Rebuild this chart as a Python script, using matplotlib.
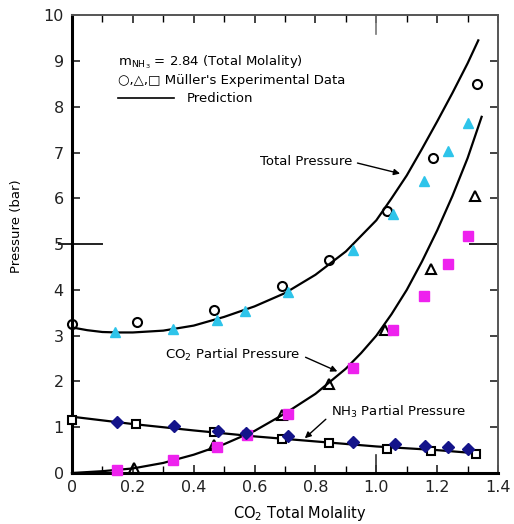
import matplotlib
matplotlib.use("Agg")
import matplotlib.pyplot as plt
from matplotlib.lines import Line2D

# ---- data ----
# Total pressure (open circles, cyan triangles)
tot_circ_x = [0.0, 0.213, 0.467, 0.689, 0.846, 1.034, 1.185, 1.33]
tot_circ_y = [3.25, 3.29, 3.56, 4.08, 4.65, 5.72, 6.87, 8.49]
tot_tri_x = [0.141, 0.333, 0.475, 0.569, 0.711, 0.922, 1.056, 1.158, 1.235, 1.30]
tot_tri_y = [3.07, 3.14, 3.35, 3.54, 3.96, 4.87, 5.65, 6.38, 7.03, 7.64]
# CO2 partial pressure (open triangles, magenta squares)
co2_tri_x = [0.204, 0.467, 0.689, 0.846, 1.029, 1.179, 1.324]
co2_tri_y = [0.12, 0.61, 1.27, 1.94, 3.12, 4.45, 6.06]
co2_sq_x = [0.147, 0.333, 0.475, 0.574, 0.711, 0.922, 1.056, 1.158, 1.237, 1.30]
co2_sq_y = [0.07, 0.28, 0.57, 0.83, 1.28, 2.29, 3.12, 3.87, 4.56, 5.18]
# NH3 partial pressure (open squares, navy diamonds)
nh3_sq_x = [0.0, 0.21, 0.467, 0.689, 0.846, 1.034, 1.179, 1.327]
nh3_sq_y = [1.16, 1.06, 0.90, 0.74, 0.66, 0.52, 0.47, 0.41]
nh3_dia_x = [0.149, 0.335, 0.481, 0.572, 0.711, 0.925, 1.06, 1.16, 1.237, 1.30]
nh3_dia_y = [1.12, 1.03, 0.92, 0.88, 0.81, 0.68, 0.63, 0.60, 0.56, 0.52]

# Prediction curves
pred_tot_x = [0, 0.05, 0.1, 0.15, 0.2, 0.3, 0.4, 0.5, 0.6, 0.7, 0.8, 0.9, 1.0, 1.05, 1.1, 1.15, 1.2, 1.25, 1.3, 1.335]
pred_tot_y = [3.18, 3.12, 3.08, 3.07, 3.07, 3.11, 3.22, 3.41, 3.64, 3.93, 4.33, 4.84, 5.52, 6.0, 6.5, 7.08, 7.68, 8.3, 8.95, 9.45]
pred_co2_x = [0, 0.1, 0.2, 0.3, 0.4, 0.5, 0.6, 0.7, 0.8, 0.9, 0.95, 1.0, 1.05, 1.1, 1.15, 1.2, 1.25, 1.3, 1.346]
pred_co2_y = [0, 0.04, 0.10, 0.22, 0.40, 0.63, 0.92, 1.30, 1.73, 2.28, 2.62, 3.0, 3.47, 4.0, 4.62, 5.3, 6.05, 6.88, 7.78]
pred_nh3_x = [0, 0.2, 0.4, 0.6, 0.8, 1.0, 1.2, 1.33]
pred_nh3_y = [1.23, 1.07, 0.93, 0.80, 0.69, 0.58, 0.50, 0.43]

x_ticks = [0, 0.2, 0.4, 0.6, 0.8, 1.0, 1.2, 1.4]
x_tick_labels = ["0", "0.2", "0.4", "0.6", "0.8", "1.0", "1.2", "1.4"]
y_ticks = list(range(0, 11))

CYAN = "#2ec4ea"
MAGENTA = "#ee22ee"
NAVY = "#14148a"

fig = plt.figure(figsize=(5.14, 5.24), dpi=100)
ax = fig.add_axes([0.140, 0.0973, 0.829, 0.8737])

# curves
for cx, cy in [(pred_tot_x, pred_tot_y), (pred_co2_x, pred_co2_y), (pred_nh3_x, pred_nh3_y)]:
    ax.plot(cx, cy, color="black", lw=1.6, zorder=2, clip_on=False)

# markers
ax.plot(tot_circ_x, tot_circ_y, "o", ms=6.5, mfc="none", mec="black", mew=1.5, zorder=4, clip_on=False)
ax.plot(tot_tri_x, tot_tri_y, "^", ms=7.5, color=CYAN, mec=CYAN, zorder=5, clip_on=False)
ax.plot(co2_tri_x, co2_tri_y, "^", ms=7, mfc="none", mec="black", mew=1.5, zorder=4, clip_on=False)
ax.plot(co2_sq_x, co2_sq_y, "s", ms=7, color=MAGENTA, mec=MAGENTA, zorder=5, clip_on=False)
ax.plot(nh3_sq_x, nh3_sq_y, "s", ms=6, mfc="white", mec="black", mew=1.5, zorder=4, clip_on=False)
ax.plot(nh3_dia_x, nh3_dia_y, "D", ms=6, color=NAVY, mec=NAVY, zorder=5, clip_on=False)

ax.set_xlim(0, 1.4)
ax.set_ylim(0, 10)
ax.set_xticks(x_ticks)
ax.set_xticklabels(x_tick_labels)
ax.set_xticks([i / 10 for i in range(1, 14)], minor=True)
ax.set_yticks(y_ticks)

ax.tick_params(axis="both", which="major", direction="in", length=6, width=1.2,
               labelsize=11.5, top=True, right=True, pad=6, colors="#222222")
ax.tick_params(axis="x", which="minor", direction="in", length=5, width=1.0, top=True)
ax.tick_params(axis="x", which="major", pad=5)

for side in ["left", "bottom"]:
    ax.spines[side].set_linewidth(2.2)
for side in ["top", "right"]:
    ax.spines[side].set_linewidth(1.4)
    ax.spines[side].set_color("#555555")

# long marks at x=1.0 (top and bottom) and y=5 (left and right)
trans = ax.get_xaxis_transform()
ax.add_line(Line2D([1.0, 1.0], [0, 0.04], transform=trans, color="#333333", lw=1.2))
ax.add_line(Line2D([1.0, 1.0], [1.0, 0.96], transform=trans, color="#777777", lw=1.2))
ytrans = ax.get_yaxis_transform()
ax.add_line(Line2D([-0.03, 0.07], [5, 5], transform=ytrans, color="#222222", lw=1.4, clip_on=False))
ax.add_line(Line2D([0.935, 1.0], [5, 5], transform=ytrans, color="#222222", lw=1.4))

ax.set_xlabel("CO$_2$ Total Molality", fontsize=10.5)
ax.xaxis.set_label_coords(0.535, -0.068)
ax.set_ylabel("Pressure (bar)", fontsize=9.5)
ax.yaxis.set_label_coords(-0.115, 0.54)

# legend-like text block
fs = 9.5
ax.text(0.108, 0.898, r"m$_{\mathrm{NH_3}}$ = 2.84 (Total Molality)", transform=ax.transAxes,
        fontsize=fs, va="center", ha="left")
ax.text(0.108, 0.858, "○,△,□ Müller's Experimental Data", transform=ax.transAxes,
        fontsize=fs, va="center", ha="left")
ax.add_line(Line2D([0.108, 0.24], [0.819, 0.819], transform=ax.transAxes, color="black", lw=1.2))
ax.text(0.27, 0.819, "Prediction", transform=ax.transAxes, fontsize=fs, va="center", ha="left")

# annotations
ap = dict(arrowstyle="-|>", color="black", lw=1.0, mutation_scale=9, shrinkA=2, shrinkB=0)
ax.annotate("Total Pressure", xy=(1.078, 6.54), xytext=(0.92, 6.8), fontsize=fs,
            ha="right", va="center", arrowprops=dict(ap, relpos=(1, 0.5)))
ax.annotate("CO$_2$ Partial Pressure", xy=(0.872, 2.22), xytext=(0.75, 2.58), fontsize=fs,
            ha="right", va="center", arrowprops=dict(ap, relpos=(1, 0.5)))
ax.annotate("NH$_3$ Partial Pressure", xy=(0.765, 0.76), xytext=(0.85, 1.34), fontsize=fs,
            ha="left", va="center", arrowprops=dict(ap, relpos=(0, 0.3)))

fig.savefig("out.png", dpi=100)
